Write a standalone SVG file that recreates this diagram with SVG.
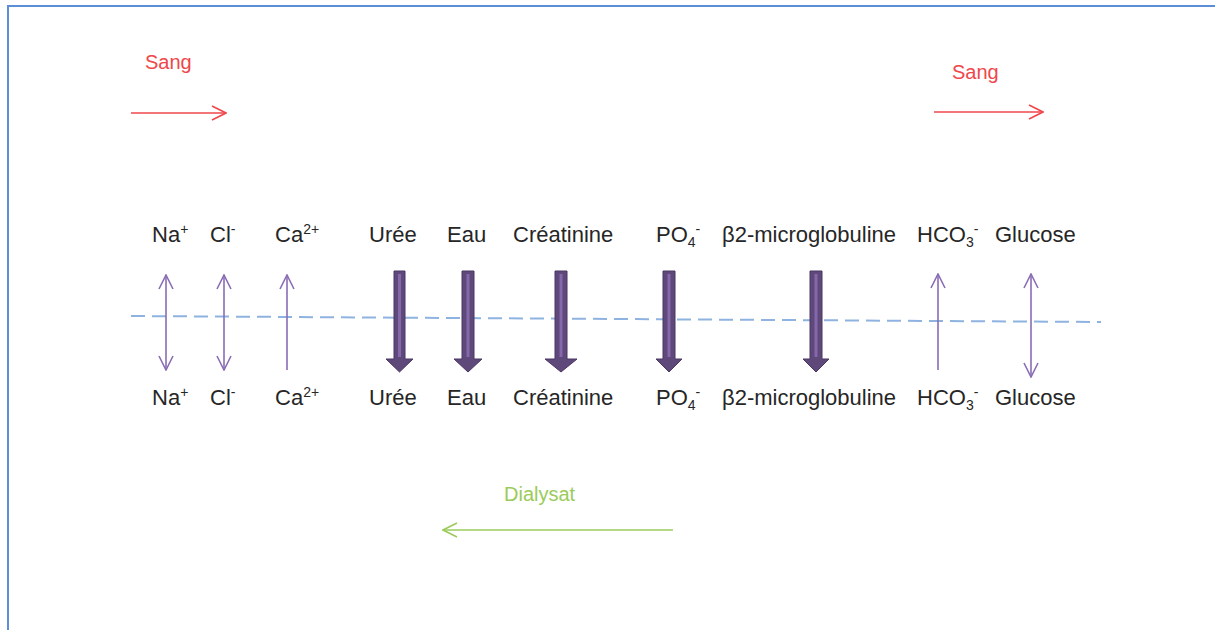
<svg xmlns="http://www.w3.org/2000/svg" width="1215" height="630" viewBox="0 0 1215 630">
<defs>
<style>
.lbl{font-family:"Liberation Sans",Arial,sans-serif;font-size:22px;fill:#262626}
.sup{font-size:14px}
.sang{font-family:"Liberation Sans",Arial,sans-serif;font-size:20px;fill:#F0474A}
.dia{font-family:"Liberation Sans",Arial,sans-serif;font-size:20px;fill:#9BCB5A}
.thin{stroke:#8A6DB5;stroke-width:1.6;fill:none}
.thick{fill:#5F497A;stroke:#4A3663;stroke-width:1}
.hl{stroke:#8468AA;stroke-width:3}
</style>
<marker id="openS" viewBox="0 0 16 16" refX="15" refY="8" markerWidth="16" markerHeight="16" markerUnits="userSpaceOnUse" orient="auto-start-reverse">
<path d="M1,1 L15,8 L1,15" fill="none" stroke="#8A6DB5" stroke-width="1.6"/>
</marker>
<marker id="openRed" viewBox="0 0 16 16" refX="15" refY="8" markerWidth="16" markerHeight="16" markerUnits="userSpaceOnUse" orient="auto">
<path d="M1,1 L15,8 L1,15" fill="none" stroke="#F0474A" stroke-width="1.6"/>
</marker>
<marker id="openGreen" viewBox="0 0 16 16" refX="15" refY="8" markerWidth="16" markerHeight="16" markerUnits="userSpaceOnUse" orient="auto">
<path d="M1,1 L15,8 L1,15" fill="none" stroke="#9BCB5A" stroke-width="1.6"/>
</marker>
</defs>
<rect x="0" y="0" width="1215" height="630" fill="#ffffff"/>
<rect x="8" y="6" width="1230" height="650" fill="none" stroke="#5B8ED6" stroke-width="2"/>

<g id="flows">
<g id="sang-left"><text class="sang" x="145" y="69">Sang</text></g>
<g id="sang-right"><text class="sang" x="952" y="79">Sang</text></g>
<g id="dialysat"><text class="dia" x="504" y="501">Dialysat</text></g>
</g>

<g id="top-labels">
<g id="t-na"><text class="lbl" x="152" y="242">Na<tspan class="sup" dy="-8">+</tspan></text></g>
<g id="t-cl"><text class="lbl" x="210" y="242">Cl<tspan class="sup" dy="-8">-</tspan></text></g>
<g id="t-ca"><text class="lbl" x="275" y="242">Ca<tspan class="sup" dy="-8">2+</tspan></text></g>
<g id="t-uree"><text class="lbl" x="369" y="242">Urée</text></g>
<g id="t-eau"><text class="lbl" x="447" y="242">Eau</text></g>
<g id="t-crea"><text class="lbl" x="513" y="242">Créatinine</text></g>
<g id="t-po4"><text class="lbl" x="656" y="242">PO<tspan class="sup" dy="5">4</tspan><tspan class="sup" dy="-13">-</tspan></text></g>
<g id="t-b2"><text class="lbl" x="722" y="242">β2-microglobuline</text></g>
<g id="t-hco3"><text class="lbl" x="917" y="242">HCO<tspan class="sup" dy="5">3</tspan><tspan class="sup" dy="-13">-</tspan></text></g>
<g id="t-glu"><text class="lbl" x="995" y="242">Glucose</text></g>
</g>

<g id="bottom-labels">
<g id="b-na"><text class="lbl" x="152" y="405">Na<tspan class="sup" dy="-8">+</tspan></text></g>
<g id="b-cl"><text class="lbl" x="210" y="405">Cl<tspan class="sup" dy="-8">-</tspan></text></g>
<g id="b-ca"><text class="lbl" x="275" y="405">Ca<tspan class="sup" dy="-8">2+</tspan></text></g>
<g id="b-uree"><text class="lbl" x="369" y="405">Urée</text></g>
<g id="b-eau"><text class="lbl" x="447" y="405">Eau</text></g>
<g id="b-crea"><text class="lbl" x="513" y="405">Créatinine</text></g>
<g id="b-po4"><text class="lbl" x="656" y="405">PO<tspan class="sup" dy="5">4</tspan><tspan class="sup" dy="-13">-</tspan></text></g>
<g id="b-b2"><text class="lbl" x="722" y="405">β2-microglobuline</text></g>
<g id="b-hco3"><text class="lbl" x="917" y="405">HCO<tspan class="sup" dy="5">3</tspan><tspan class="sup" dy="-13">-</tspan></text></g>
<g id="b-glu"><text class="lbl" x="995" y="405">Glucose</text></g>
</g>

<g id="membrane">
<line x1="131" y1="316" x2="1101" y2="322" stroke="#8FB3E0" stroke-width="2" stroke-dasharray="14,7"/>
</g>

<g id="connectors">
<line x1="131" y1="113" x2="226" y2="113" stroke="#F0474A" stroke-width="1.6" marker-end="url(#openRed)"/>
<line x1="934" y1="112" x2="1043" y2="112" stroke="#F0474A" stroke-width="1.6" marker-end="url(#openRed)"/>
<line x1="673" y1="530" x2="443" y2="530" stroke="#9BCB5A" stroke-width="1.6" marker-end="url(#openGreen)"/>

<line class="thin" x1="166" y1="275" x2="166" y2="370" marker-start="url(#openS)" marker-end="url(#openS)"/>
<line class="thin" x1="224" y1="275" x2="224" y2="370" marker-start="url(#openS)" marker-end="url(#openS)"/>
<line class="thin" x1="287" y1="370" x2="287" y2="275" marker-end="url(#openS)"/>
<line class="thin" x1="938" y1="370" x2="938" y2="274" marker-end="url(#openS)"/>
<line class="thin" x1="1031" y1="274" x2="1031" y2="377" marker-start="url(#openS)" marker-end="url(#openS)"/>

<g id="arr-uree"><path class="thick" d="M394,271 H405 V359 H413 L399.5,372 L386,359 H394 Z"/><line class="hl" x1="399.5" y1="274" x2="399.5" y2="357"/></g>
<g id="arr-eau"><path class="thick" d="M462,271 H474 V359 H482 L468,372 L454,359 H462 Z"/><line class="hl" x1="468" y1="274" x2="468" y2="357"/></g>
<g id="arr-crea"><path class="thick" d="M555,271 H567 V359 H577 L561,372 L545,359 H555 Z"/><line class="hl" x1="561" y1="274" x2="561" y2="357"/></g>
<g id="arr-po4"><path class="thick" d="M663,271 H675 V359 H682 L669,372 L656,359 H663 Z"/><line class="hl" x1="669" y1="274" x2="669" y2="357"/></g>
<g id="arr-b2"><path class="thick" d="M810,271 H822 V359 H829 L816,372 L803,359 H810 Z"/><line class="hl" x1="816" y1="274" x2="816" y2="357"/></g>
</g>
</svg>
